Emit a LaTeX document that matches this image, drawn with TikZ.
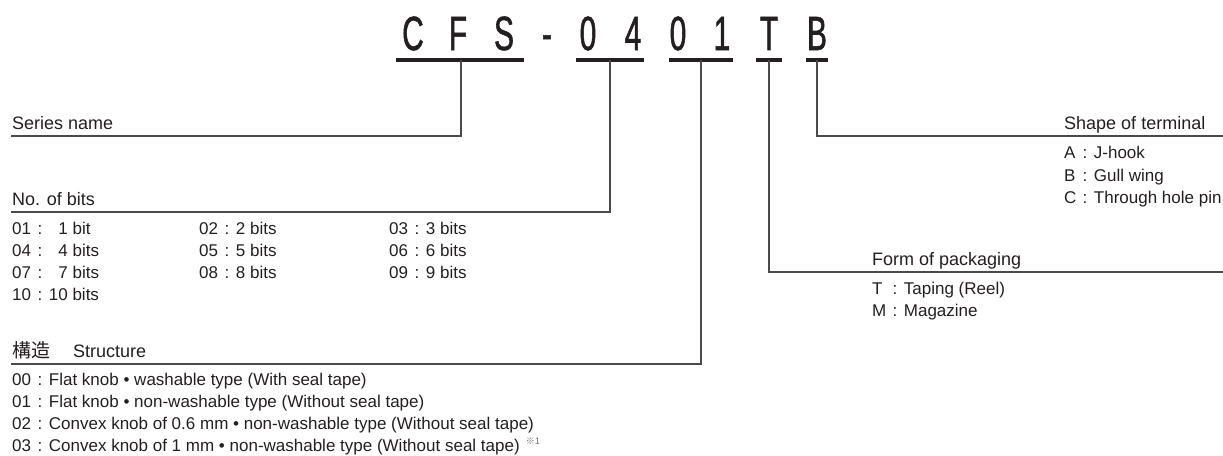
\documentclass[tikz,border=0pt]{standalone}
\usepackage{fontspec}
\setmainfont{Liberation Sans}
\newfontfamily\bigfont{Liberation Sans}[FakeStretch=0.62, FakeBold=1.2]
\newfontfamily\cjkfont{Noto Sans CJK JP}

\definecolor{ink}{HTML}{231F20}
\definecolor{rulegray}{HTML}{4A4A4A}
\definecolor{notegray}{HTML}{707070}

\newcommand{\choice}[3]{\makebox[#1][l]{#2}\hspace{6.5pt}:\hspace{6.5pt}#3}

\tikzset{
    bigchar/.style={anchor=base, inner sep=0pt, text=ink, font=\bigfont\fontsize{48}{50}\selectfont},
    heading/.style={anchor=base west, inner sep=0pt, text=ink, font=\fontsize{18}{20}\selectfont},
    listtext/.style={anchor=base west, inner sep=0pt, text=ink, font=\fontsize{17}{20}\selectfont},
    codebar/.style={draw=ink, line width=4.5pt},
    leader/.style={draw=rulegray, line width=1.2pt},
}

\begin{document}
\begin{tikzpicture}[x=1pt, y=-1pt]

        \useasboundingbox (0000,0000) rectangle (1223,0455);

        % Part number
        \node[bigchar] (chC)  at (0413,0050) {C};
        \node[bigchar] (chF)  at (0458,0050) {F};
        \node[bigchar] (chS)  at (0504,0050) {S};
        \node[bigchar] (chD)  at (0547,0050) {-};
        \node[bigchar] (chB1) at (0588,0050) {0};
        \node[bigchar] (chB2) at (0633,0050) {4};
        \node[bigchar] (chS1) at (0678,0050) {0};
        \node[bigchar] (chS2) at (0722,0050) {1};
        \node[bigchar] (chT)  at (0769,0050) {T};
        \node[bigchar] (chE)  at (0817,0050) {B};

        % Code bars
        \coordinate (cfsL)  at (0396,0060);
        \coordinate (cfsR)  at (0524,0060);
        \coordinate (cfsM)  at (0461,0060);
        \coordinate (bitsL) at (0576,0060);
        \coordinate (bitsR) at (0644,0060);
        \coordinate (bitsM) at (0610,0060);
        \coordinate (strL)  at (0669,0060);
        \coordinate (strR)  at (0733,0060);
        \coordinate (strM)  at (0701,0060);
        \coordinate (pkgL)  at (0756,0060);
        \coordinate (pkgR)  at (0782,0060);
        \coordinate (pkgM)  at (0769,0060);
        \coordinate (trmL)  at (0806,0060);
        \coordinate (trmR)  at (0828,0060);
        \coordinate (trmM)  at (0817,0060);
        \draw[codebar] (cfsL) -- (cfsR);
        \draw[codebar] (bitsL) -- (bitsR);
        \draw[codebar] (strL) -- (strR);
        \draw[codebar] (pkgL) -- (pkgR);
        \draw[codebar] (trmL) -- (trmR);

        % Series name
        \node[heading] (series) at (0012,0129) {Series name};
        \coordinate (seriesEnd) at (0011,0136);
        \draw[leader] (cfsM) |- (seriesEnd);

        % No. of bits
        \node[heading] (bits) at (0012,0205) {No. of bits};
        \coordinate (bitsEnd) at (0011,0212);
        \draw[leader] (bitsM) |- (bitsEnd);
        \node[listtext] (nb01) at (0012,0234) {\choice{19pt}{01}{\phantom{1}1 bit}};
        \node[listtext] (nb02) at (0199,0234) {\choice{19pt}{02}{2 bits}};
        \node[listtext] (nb03) at (0389,0234) {\choice{19pt}{03}{3 bits}};
        \node[listtext] (nb04) at (0012,0256) {\choice{19pt}{04}{\phantom{1}4 bits}};
        \node[listtext] (nb05) at (0199,0256) {\choice{19pt}{05}{5 bits}};
        \node[listtext] (nb06) at (0389,0256) {\choice{19pt}{06}{6 bits}};
        \node[listtext] (nb07) at (0012,0278) {\choice{19pt}{07}{\phantom{1}7 bits}};
        \node[listtext] (nb08) at (0199,0278) {\choice{19pt}{08}{8 bits}};
        \node[listtext] (nb09) at (0389,0278) {\choice{19pt}{09}{9 bits}};
        \node[listtext] (nb10) at (0012,0300) {\choice{19pt}{10}{10 bits}};

        % Structure
        \node[heading] (struct) at (0012,0357) {{\cjkfont\fontsize{19}{20}\selectfont 構造}\hspace{23pt}Structure};
        \coordinate (structEnd) at (0011,0364);
        \draw[leader] (strM) |- (structEnd);
        \node[listtext] (st00) at (0012,0385) {\choice{19pt}{00}{Flat knob • washable type (With seal tape)}};
        \node[listtext] (st01) at (0012,0407) {\choice{19pt}{01}{Flat knob • non-washable type (Without seal tape)}};
        \node[listtext] (st02) at (0012,0429) {\choice{19pt}{02}{Convex knob of 0.6 mm • non-washable type (Without seal tape)}};
        \node[listtext] (st03) at (0012,0451) {\choice{19pt}{03}{Convex knob of 1 mm • non-washable type (Without seal tape)}\hspace{6pt}\raisebox{7pt}{\color{notegray}\cjkfont\fontsize{9}{9}\selectfont ※1}};

        % Form of packaging
        \node[heading] (form) at (0872,0265) {Form of packaging};
        \coordinate (formEnd) at (1223,0272);
        \draw[leader] (pkgM) |- (formEnd);
        \node[listtext] (pkT) at (0872,0294) {\choice{14pt}{T}{Taping (Reel)}};
        \node[listtext] (pkM) at (0872,0316) {\choice{14pt}{M}{Magazine}};

        % Shape of terminal
        \node[heading] (shape) at (1064,0129) {Shape of terminal};
        \coordinate (shapeEnd) at (1223,0136);
        \draw[leader] (trmM) |- (shapeEnd);
        \node[listtext] (shA) at (1064,0158) {\choice{12pt}{A}{J-hook}};
        \node[listtext] (shB) at (1064,0181) {\choice{12pt}{B}{Gull wing}};
        \node[listtext] (shC) at (1064,0203) {\choice{12pt}{C}{Through hole pin}};

    \end{tikzpicture}
\end{document}
